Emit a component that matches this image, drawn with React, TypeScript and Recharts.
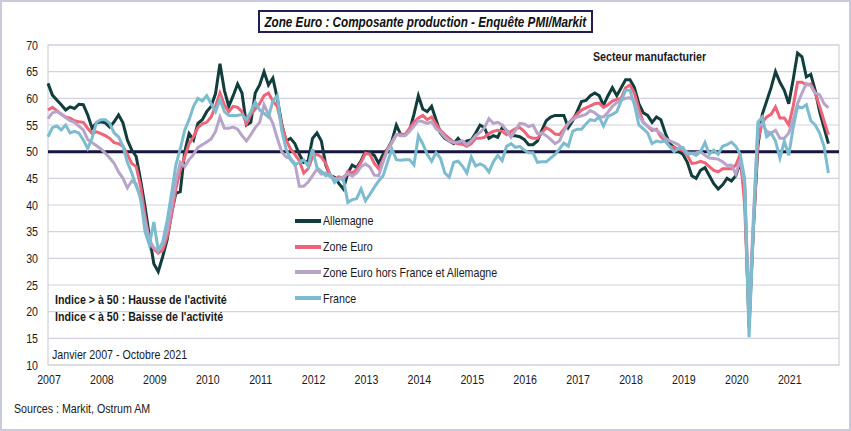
import React from 'react';
import { LineChart, Line, XAxis, YAxis, CartesianGrid, ReferenceLine, ReferenceArea, Legend } from 'recharts';

// Monthly PMI output index, Jan 2007 - Oct 2021
const YEARS = ['2007', '2008', '2009', '2010', '2011', '2012', '2013', '2014', '2015', '2016', '2017', '2018', '2019', '2020', '2021'];

const ALLEMAGNE = [
  62.8, 60.6, 59.7, 58.8, 57.8, 58.4, 58.1, 58.9, 58.8, 56.9, 54.4, 55.4,
  55.6, 55.4, 54.6, 55.6, 56.9, 55.4, 52.2, 50.3, 49.1, 44.7, 39.7, 34.1,
  29.0, 27.5, 30.3, 33.4, 38.4, 42.2, 42.5, 50.0, 53.4, 52.2, 55.3, 56.0,
  57.5, 58.5, 60.9, 66.5, 61.5, 58.5, 60.5, 62.7, 61.0, 55.0, 55.5, 61.0,
  62.5, 65.0, 62.5, 63.8, 60.0, 55.2, 52.0, 52.5, 51.5, 49.5, 48.0, 48.3,
  52.5, 53.5, 52.0, 47.5, 45.5, 45.2, 44.0, 43.0, 46.0, 47.5, 47.0, 48.3,
  50.0, 49.8, 49.3, 47.8, 49.5, 50.5, 52.0, 55.0, 53.2, 53.2, 54.0, 57.0,
  60.5, 58.0, 57.5, 58.5, 56.0, 53.5, 52.5, 52.0, 51.5, 52.5, 51.5, 52.0,
  52.2, 53.5, 55.0, 54.5, 52.5, 53.0, 52.7, 54.5, 54.0, 53.0, 53.0, 52.8,
  52.3, 51.3, 51.3, 52.0, 54.0, 55.8, 56.5, 56.8, 56.8, 56.8, 54.5, 55.8,
  57.5, 59.4, 59.6, 60.5, 61.0, 60.5, 58.7, 60.5, 62.0, 60.5, 62.0, 63.5,
  63.5, 62.0, 59.0, 57.3, 56.8, 55.5, 56.5, 56.0, 53.5, 51.5, 50.8, 50.0,
  49.5, 48.0, 45.5, 45.0, 46.5, 47.0, 45.5, 44.0, 43.0, 43.8, 45.0, 44.5,
  45.5, 48.0, 43.0, 17.0, 36.0, 51.0, 57.0, 59.5, 62.0, 65.0, 63.0, 61.5,
  59.0, 63.5, 68.5, 67.8, 64.0, 64.5, 61.5, 57.5, 54.5, 51.5,
];

const ZONE_EURO = [
  57.8, 58.3, 57.7, 57.0, 56.5, 56.3, 55.8, 55.6, 55.5, 54.4, 53.4, 53.7,
  53.4, 53.0, 52.5, 51.7, 51.5, 51.0, 49.5, 47.8, 47.2, 43.5, 38.0, 33.0,
  31.8, 31.0, 31.5, 34.0, 38.0, 43.0, 46.5, 49.0, 51.5, 52.8, 54.5, 55.2,
  55.5, 56.5, 58.5, 61.0, 58.8, 57.5, 58.5, 58.3, 57.5, 55.2, 57.0, 58.0,
  59.0, 60.5, 61.0, 59.5, 58.5, 55.0, 52.2, 50.5, 49.5, 48.3, 46.0, 46.8,
  49.0, 49.5, 49.0, 47.8, 45.6, 44.8, 45.3, 44.7, 46.3, 46.0, 46.6, 48.0,
  49.7, 49.5, 47.8, 46.8, 48.5, 50.5, 51.7, 53.2, 53.3, 53.2, 54.4, 55.5,
  56.3, 56.8, 56.0, 56.5, 55.2, 54.0, 53.2, 52.5, 51.8, 51.5, 51.4, 51.0,
  51.5, 52.5, 52.5, 52.7, 53.4, 53.8, 54.0, 53.8, 53.2, 53.8, 54.3, 54.5,
  53.8, 52.8, 52.5, 52.5, 53.5, 54.5, 54.0, 53.3, 53.2, 54.2, 55.3, 56.2,
  57.0, 57.8, 58.2, 58.6, 59.0, 59.1, 58.3, 58.8, 59.5, 59.8, 60.0, 62.0,
  62.5, 61.0, 58.0, 55.5, 54.8, 54.0, 54.2, 52.8, 52.0, 51.0, 50.8, 50.5,
  50.2, 49.3, 47.8, 47.9, 48.2, 47.9, 47.2, 46.5, 46.2, 46.8, 46.8, 46.8,
  47.5, 49.5, 40.0, 18.5, 36.0, 52.0, 55.5, 56.5, 57.0, 58.4, 56.3, 56.3,
  55.0, 58.5, 63.0, 63.0, 62.5, 62.7, 61.0, 58.5, 55.8, 53.2,
];

const HORS_FR_ALL = [
  56.2, 57.3, 57.5, 57.1, 56.4, 55.8, 55.5, 54.8, 54.1, 52.3, 51.7, 51.1,
  50.5, 49.7, 48.8, 47.8, 46.2, 45.0, 43.2, 44.5, 44.0, 41.0, 37.0, 33.5,
  32.0, 31.5, 32.5, 35.0, 39.5, 44.5, 48.0, 47.2, 48.5, 49.5, 50.8, 51.3,
  51.8, 52.4, 53.8, 56.5, 54.4, 54.4, 54.6, 54.2, 53.0, 52.0, 53.2, 54.5,
  55.5, 58.8, 57.0, 55.3, 52.5, 50.0, 49.0, 48.7, 47.8, 43.5, 43.5, 44.3,
  45.5, 46.7, 45.8, 46.0, 45.3, 45.0, 44.8, 45.3, 45.9, 45.4, 46.0, 47.2,
  47.7, 47.1, 45.6, 45.5, 48.0, 50.3, 51.8, 53.2, 53.0, 53.0, 53.8, 54.8,
  55.8, 55.6, 55.3, 55.6, 54.3, 53.7, 52.7, 52.0, 51.7, 51.8, 52.0, 51.3,
  52.0, 53.0, 53.6, 54.5, 56.2, 55.3, 55.5, 55.0, 54.0, 52.7, 54.0, 55.3,
  55.2, 54.7, 55.0, 53.4, 53.5, 53.0, 52.3, 51.5, 52.0, 53.8, 55.3, 56.0,
  56.5, 56.7, 57.0, 57.7, 57.3, 56.6, 56.5, 57.4, 58.5, 59.2, 59.7, 60.0,
  60.1, 59.5, 56.8, 55.5, 54.7, 54.3, 54.0, 53.4, 52.5, 52.0, 51.7, 51.3,
  50.5, 49.8, 49.7, 49.8, 50.0, 49.3, 48.8, 48.7, 48.6, 48.1, 47.4, 47.5,
  45.8, 48.5, 44.0, 20.0, 38.0, 54.5, 55.3, 53.8, 53.5, 54.0, 52.5, 52.5,
  53.5, 56.0, 59.0, 61.0, 62.8, 62.3, 61.0, 60.7, 59.0, 58.2,
];

const FRANCE = [
  52.8, 54.5, 54.8, 54.1, 55.0, 53.5, 53.8, 53.5, 52.2, 50.6, 52.5, 55.5,
  56.0, 56.0, 55.3, 53.5, 52.8, 51.0, 48.0, 46.0, 43.5, 41.5, 35.0, 32.5,
  36.8, 31.5, 33.0, 37.0, 42.0, 47.5, 50.5, 54.0, 56.0, 58.5, 60.0, 59.5,
  60.5, 59.0, 57.5, 59.8, 57.5, 56.8, 56.8, 56.8, 57.0, 56.0, 57.5, 59.3,
  57.8, 57.2, 56.5, 59.5, 60.5, 54.0, 50.5, 48.5, 47.5, 48.0, 48.5, 47.3,
  50.5, 47.0, 46.3, 45.5, 45.8, 44.2, 45.0, 44.8, 40.5, 41.0, 41.2, 43.0,
  40.8, 42.0, 43.3, 44.5, 45.5, 48.0, 50.5, 48.5, 48.4, 48.5, 48.5, 47.5,
  53.0, 51.5, 49.5, 48.2, 49.8, 48.8, 46.0, 45.2, 48.0, 48.2, 47.3, 46.0,
  49.0, 47.3, 47.7, 47.3, 46.2, 48.1, 49.3, 48.3, 51.0, 51.5, 50.8, 51.0,
  50.3, 49.8, 49.8, 48.0, 48.1, 48.1, 48.8, 49.5, 50.5, 51.6, 51.0, 53.8,
  54.2, 54.2, 55.2, 56.0, 55.8, 56.5, 54.8, 56.6, 57.0, 57.5, 59.5, 61.5,
  61.5, 58.8, 55.0, 54.3, 53.5, 51.5, 52.0, 51.8, 52.0, 51.0, 50.0, 50.6,
  50.8, 49.5, 49.7, 49.3, 50.0, 51.7, 49.5, 50.3, 49.5, 51.0, 51.3, 51.8,
  51.0, 49.5, 45.0, 15.2, 36.0, 55.5, 56.5, 52.8, 53.5, 52.0, 48.8, 52.0,
  49.3, 54.5, 58.5, 58.2, 58.8, 55.8, 55.0, 53.5, 51.0, 46.0,
];

const SERIES = [
  { key: 'allemagne', name: 'Allemagne', color: '#123d3d', values: ALLEMAGNE },
  { key: 'zoneEuro', name: 'Zone Euro', color: '#ef6478', values: ZONE_EURO },
  { key: 'horsFrAll', name: 'Zone Euro hors France et Allemagne', color: '#b9a4c9', values: HORS_FR_ALL },
  { key: 'france', name: 'France', color: '#7dbccf', values: FRANCE },
];

const data = ALLEMAGNE.map((_, i) => {
  const row: Record<string, number> = { t: i };
  SERIES.forEach(s => { row[s.key] = s.values[i]; });
  return row;
});

const FONT = "'Liberation Sans', Arial, sans-serif";
const NARROW = 0.82;
const yTicks = [10, 15, 20, 25, 30, 35, 40, 45, 50, 55, 60, 65, 70];
const xTicks = YEARS.map((_, i) => i * 12);

// text squeezed horizontally to look like Arial Narrow
const Narrow = ({ left, top, bold, size = 13, children }: any) => (
  <div style={{
    position: 'absolute', left, top, fontSize: size, fontWeight: bold ? 'bold' : 'normal',
    color: '#1a1a1a', whiteSpace: 'nowrap', transform: `scaleX(${NARROW})`, transformOrigin: 'left top',
  }}>
    {children}
  </div>
);

const XTick = ({ x, y, payload }: any) => (
  <text x={0} y={0} transform={`translate(${x + 1},${y + 17}) scale(${NARROW},1)`} textAnchor="middle" fill="#1a1a1a" fontSize={13} fontFamily={FONT}>
    {YEARS[Math.round(payload.value / 12)]}
  </text>
);

const YTick = ({ x, y, payload }: any) => (
  <text x={0} y={0} transform={`translate(${x - 8},${y + 4.5}) scale(${NARROW},1)`} textAnchor="end" fill="#1a1a1a" fontSize={13} fontFamily={FONT}>
    {payload.value}
  </text>
);

const renderLegend = () => (
  <div style={{ fontFamily: FONT, fontSize: 13, color: '#1a1a1a' }}>
    {SERIES.map(s => (
      <div key={s.key} style={{ display: 'flex', alignItems: 'center', height: 25.8 }}>
        <div style={{ width: 26, height: 4, background: s.color, marginRight: 2 }} />
        <span style={{ display: 'inline-block', whiteSpace: 'nowrap', transform: `scaleX(${NARROW})`, transformOrigin: 'left center' }}>{s.name}</span>
      </div>
    ))}
  </div>
);

export default function App() {
  return (
    <div style={{ position: 'absolute', left: 0, top: 0, width: 851, height: 431, background: '#fff', fontFamily: FONT }}>
      <LineChart width={851} height={431} data={data} margin={{ top: 45, right: 12, bottom: 36, left: 0 }}>
        <CartesianGrid vertical={false} stroke="#d2d2de" strokeWidth={1.2} />
        <ReferenceArea x1={0} x2={179.4} y1={10} y2={70} fill="none" stroke="#cfcfdc" strokeWidth={1.2} />
        <XAxis
          dataKey="t"
          type="number"
          domain={[0, 179.4]}
          ticks={xTicks}
          axisLine={false}
          tickLine={false}
          tickSize={0}
          height={30}
          tick={<XTick />}
        />
        <YAxis
          domain={[10, 70]}
          ticks={yTicks}
          width={48}
          axisLine={false}
          tickLine={false}
          tickSize={0}
          tick={<YTick />}
        />
        <ReferenceLine y={50} stroke="#15153d" strokeWidth={3} />
        {SERIES.map(s => (
          <Line
            key={s.key}
            dataKey={s.key}
            name={s.name}
            stroke={s.color}
            strokeWidth={3}
            dot={false}
            type="linear"
            isAnimationActive={false}
          />
        ))}
        <Legend
          layout="vertical"
          align="center"
          verticalAlign="middle"
          wrapperStyle={{ left: 295, top: 208, width: 260 }}
          content={renderLegend}
        />
      </LineChart>

      <div style={{ position: 'absolute', left: 258, top: 10, width: 331, height: 19, border: '2px solid #1f1f55', display: 'flex', justifyContent: 'center', alignItems: 'center' }}>
        <span style={{ flex: 'none', whiteSpace: 'nowrap', fontSize: 15, fontWeight: 'bold', fontStyle: 'italic', color: '#111', transform: 'scaleX(0.78)', transformOrigin: 'center' }}>
          Zone Euro : Composante production - Enquête PMI/Markit
        </span>
      </div>
      <Narrow left={593} top={49} bold>Secteur manufacturier</Narrow>
      <Narrow left={55} top={292} bold>Indice &gt; à 50 : Hausse de l'activité</Narrow>
      <Narrow left={55} top={309} bold>Indice &lt; à 50 : Baisse de l'activité</Narrow>
      <Narrow left={52} top={347}>Janvier 2007 - Octobre 2021</Narrow>
      <Narrow left={14} top={401}>Sources : Markit, Ostrum AM</Narrow>
      <div style={{ position: 'absolute', left: 0, top: 0, width: 851, height: 431, boxSizing: 'border-box', border: '2px solid #cacadc', pointerEvents: 'none' }} />
    </div>
  );
}
